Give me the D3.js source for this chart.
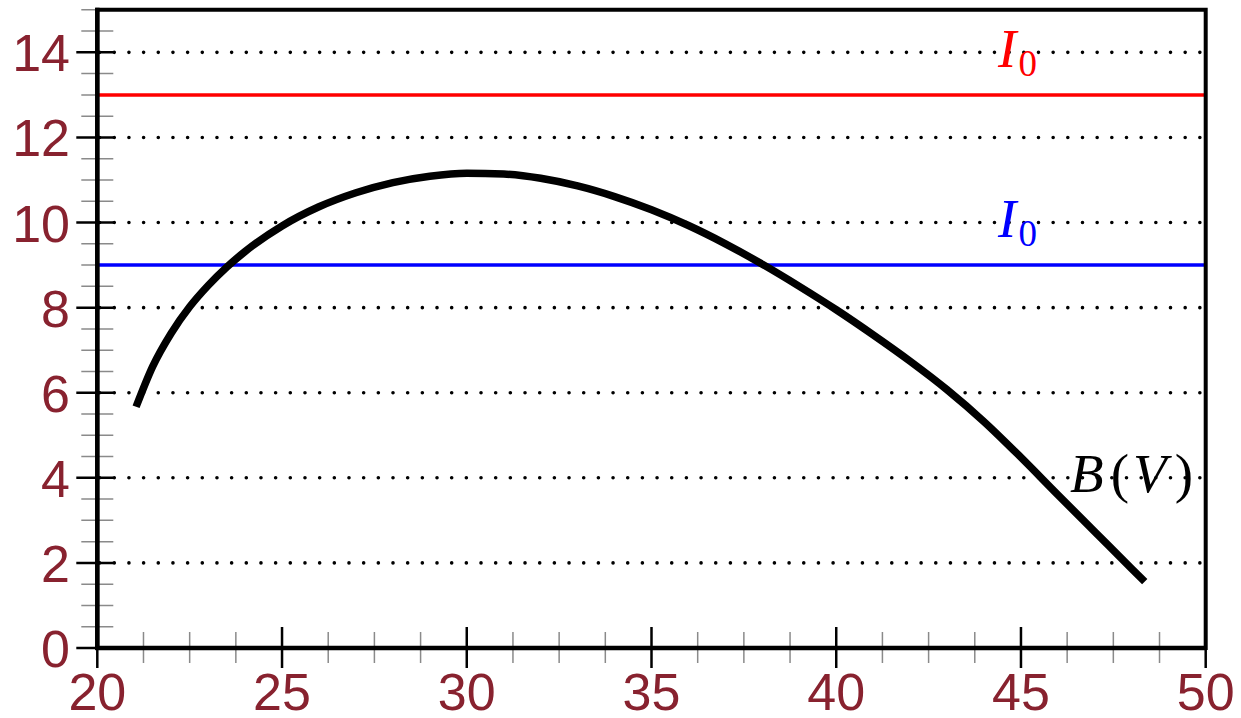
<!DOCTYPE html>
<html>
<head>
<meta charset="utf-8">
<script src="https://cdn.jsdelivr.net/npm/d3@7"></script>
<style>
  body { margin: 0; background: #fff; }
  .tick-label { font-family: "Liberation Sans", Arial, sans-serif; font-size: 52px; fill: #88222f; }
  .math { font-family: "Liberation Serif", "Times New Roman", serif; }
</style>
</head>
<body>
<svg width="1241" height="718"></svg>
<script>
// B(V) curve
const voltage = [21.05, 21.5, 22, 22.5, 23, 23.5, 24, 25, 26, 27, 28, 29, 30, 31, 32, 33, 34, 35, 36, 37, 38, 39, 40, 41, 42, 43, 44, 45, 46, 47, 48, 48.35];
const bValue  = [5.67, 6.62, 7.40, 8.02, 8.52, 8.95, 9.32, 9.92, 10.37, 10.70, 10.94, 11.09, 11.16, 11.14, 11.04, 10.86, 10.61, 10.30, 9.93, 9.50, 9.02, 8.50, 7.95, 7.36, 6.74, 6.07, 5.32, 4.48, 3.60, 2.73, 1.86, 1.56];

const xTicks = [20, 25, 30, 35, 40, 45, 50];
const yTicks = [0, 2, 4, 6, 8, 10, 12, 14];
const gridLevels = [2, 4, 6, 8, 10, 12, 14];

const levels = [
  { value: 13, color: "#ff0000" },
  { value: 9,  color: "#0000ff" }
];

window.onload = () => {
  const svg = d3.select("svg");

  const x = d3.scaleLinear().domain([20, 50]).range([97.3, 1205.7]);
  const y = d3.scaleLinear().domain([0, 15]).range([648, 9.8]);

  const xMinor = d3.range(20, 50.01, 1.25).filter(v => v % 5 !== 0);
  const yMinor = d3.range(0, 15.01, 0.5).filter(v => v % 2 !== 0);

  // dotted grid
  svg.append("g").selectAll("line")
    .data(gridLevels)
    .enter().append("line")
      .attr("x1", x(20) + 2.3)
      .attr("x2", x(50) - 2)
      .attr("y1", y).attr("y2", y)
      .attr("stroke", "#000")
      .attr("stroke-width", 3.6)
      .attr("stroke-linecap", "round")
      .attr("stroke-dasharray", "0 14.67");

  // minor ticks
  svg.append("g").selectAll("line")
    .data(yMinor)
    .enter().append("line")
      .attr("x1", x(20) - 16).attr("x2", x(20) + 16)
      .attr("y1", y).attr("y2", y)
      .attr("stroke", "#8a8a8a").attr("stroke-width", 1.5);

  svg.append("g").selectAll("line")
    .data(xMinor)
    .enter().append("line")
      .attr("x1", x).attr("x2", x)
      .attr("y1", y(0) - 16).attr("y2", y(0) + 15)
      .attr("stroke", "#8a8a8a").attr("stroke-width", 1.5);

  // major ticks
  svg.append("g").selectAll("line")
    .data(yTicks)
    .enter().append("line")
      .attr("x1", x(20) - 21).attr("x2", x(20) + 16)
      .attr("y1", y).attr("y2", y)
      .attr("stroke", "#000").attr("stroke-width", 2.5);

  svg.append("g").selectAll("line")
    .data(xTicks)
    .enter().append("line")
      .attr("x1", x).attr("x2", x)
      .attr("y1", y(0) - 21).attr("y2", y(0) + 20)
      .attr("stroke", "#000").attr("stroke-width", 2.5);

  // horizontal levels
  svg.append("g").selectAll("line")
    .data(levels)
    .enter().append("line")
      .attr("x1", x(20)).attr("x2", x(50))
      .attr("y1", d => y(d.value)).attr("y2", d => y(d.value))
      .attr("stroke", d => d.color)
      .attr("stroke-width", 3.5);

  // frame
  svg.append("path")
    .attr("d", `M${x(20)},${y(0)} H${x(50)} V${y(15)} H${x(20)} Z`)
    .attr("fill", "none")
    .attr("stroke", "#000")
    .attr("stroke-width", 4);
  svg.append("line")
    .attr("x1", x(20)).attr("x2", x(20))
    .attr("y1", y(15) - 2).attr("y2", y(0) + 2)
    .attr("stroke", "#000").attr("stroke-width", 4.5);
  svg.append("line")
    .attr("x1", x(20) - 2).attr("x2", x(50))
    .attr("y1", y(0)).attr("y2", y(0))
    .attr("stroke", "#000").attr("stroke-width", 4.5);

  // curve
  const pts = voltage.map((v, i) => [v, bValue[i]]);
  const line = d3.line()
    .x(d => x(d[0]))
    .y(d => y(d[1]))
    .curve(d3.curveMonotoneX);
  svg.append("path")
    .datum(pts)
    .attr("d", line)
    .attr("fill", "none")
    .attr("stroke", "#000")
    .attr("stroke-width", 7.5)
    .attr("stroke-linejoin", "round");

  // tick labels
  svg.append("g").selectAll("text")
    .data(yTicks)
    .enter().append("text")
      .attr("class", "tick-label")
      .attr("text-anchor", "end")
      .attr("x", 70)
      .attr("y", d => y(d) + 19)
      .text(d => d);

  svg.append("g").selectAll("text")
    .data(xTicks)
    .enter().append("text")
      .attr("class", "tick-label")
      .attr("text-anchor", "middle")
      .attr("x", x)
      .attr("y", y(0) + 62)
      .text(d => d);

  // I_0 labels
  const lab = svg.append("g").selectAll("text")
    .data(levels)
    .enter().append("text")
      .attr("class", "math")
      .attr("x", x(44.38))
      .attr("y", d => y(d.value) - 28)
      .attr("fill", d => d.color);
  lab.append("tspan")
    .attr("font-style", "italic")
    .attr("font-size", 55)
    .text("I");
  lab.append("tspan")
    .attr("font-size", 37)
    .attr("dx", 2)
    .attr("dy", 9)
    .text("0");

  // B(V) label
  const bl = svg.append("text")
    .attr("class", "math")
    .attr("x", x(46.33))
    .attr("y", y(4) + 14)
    .attr("font-size", 55)
    .attr("fill", "#000");
  bl.append("tspan").attr("font-style", "italic").text("B");
  bl.append("tspan").attr("dx", 7).text("(");
  bl.append("tspan").attr("font-style", "italic").attr("dx", 4).text("V");
  bl.append("tspan").attr("dx", 8).text(")");
};
</script>
</body>
</html>
